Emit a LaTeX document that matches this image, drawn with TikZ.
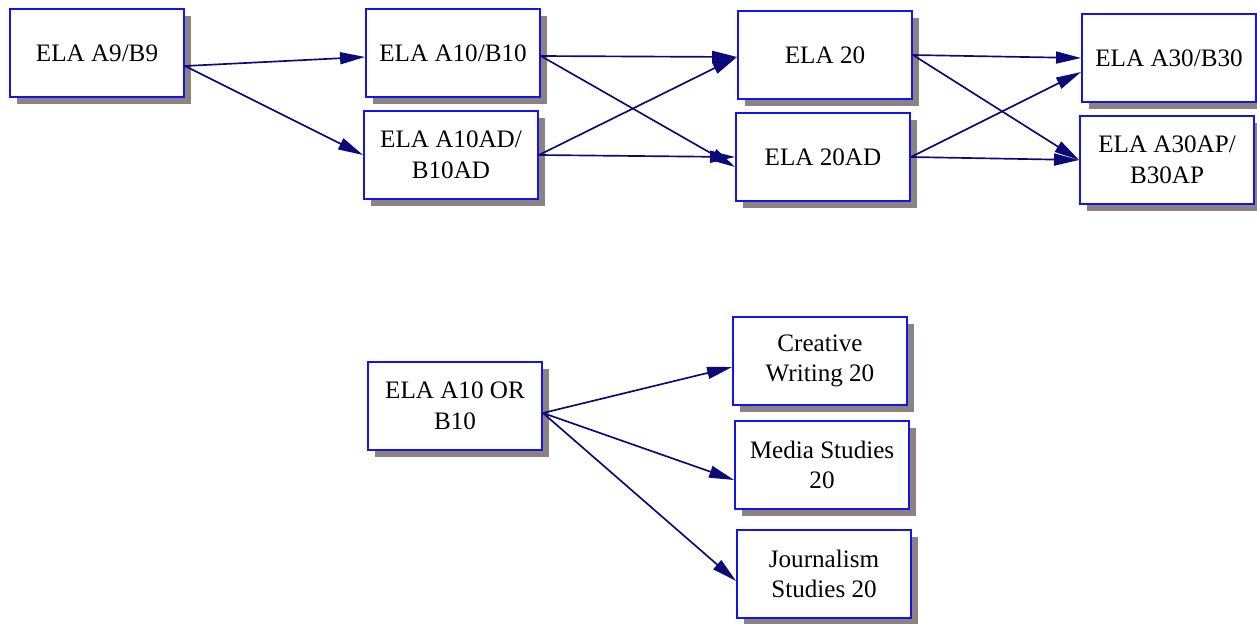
\documentclass[tikz,border=0pt]{standalone}
\usepackage{fontspec}
\setmainfont{Liberation Serif}
\usetikzlibrary{arrows.meta,shadows}
\tikzset{>={Triangle[length=0.5cm,width=0.24cm]}}
\definecolor{boxblue}{RGB}{20,20,240}
\definecolor{linknavy}{RGB}{10,10,120}
\definecolor{shadowgray}{RGB}{140,130,130}
\tikzset{
  course/.style={draw=boxblue, line width=1.1pt, fill=white,
    minimum width=3.48cm, minimum height=1.76cm, align=center,
    font=\fontsize{14.3}{17.5}\selectfont,
    drop shadow={shadow xshift=0.14cm, shadow yshift=-0.14cm, fill=shadowgray, opacity=1}},
  link/.style={->, linknavy, line width=0.95pt}
}

\begin{document}
\begin{tikzpicture}[x=0.02cm,y=-0.02cm]
    \useasboundingbox (0,0) rectangle (1257,623);
    % main sequence
    \node[course] (a9) at (97,53) {ELA A9/B9};
    \node[course] (a10) at (453,53) {ELA A10/B10};
    \node[course] (a10ad) at (451,155) {ELA A10AD/\\B10AD};
    \node[course] (ela20) at (825,55) {ELA 20};
    \node[course] (ela20ad) at (823,157) {ELA 20AD};
    \node[course] (a30) at (1169,58) {ELA A30/B30};
    \node[course] (a30ap) at (1167,160) {ELA A30AP/\\B30AP};
    % electives
    \node[course] (a10or) at (455,406) {ELA A10 OR\\B10};
    \node[course] (cw20) at (820,361) {Creative\\Writing 20};
    \node[course] (ms20) at (822,465) {Media Studies\\20};
    \node[course] (js20) at (824,574) {Journalism\\Studies 20};

    \draw[link] ([yshift=-0.26cm]a9.east) -- ([yshift=-0.08cm]a10.west);
    \draw[link] ([yshift=-0.26cm]a9.east) -- (a10ad.west);
    \draw[link] ([yshift=-0.06cm]a10.east) -- ([yshift=-0.04cm]ela20.west);
    \draw[link] ([yshift=-0.06cm]a10.east) -- ([yshift=-0.2cm]ela20ad.west);
    \draw[link] (a10ad.east) -- ([yshift=-0.04cm]ela20.west);
    \draw[link] (a10ad.east) -- (ela20ad.west);
    \draw[link] (ela20.east) -- (a30.west);
    \draw[link] (ela20.east) -- (a30ap.west);
    \draw[link] (ela20ad.east) -- ([yshift=-0.28cm]a30.west);
    \draw[link] (ela20ad.east) -- (a30ap.west);

    \draw[link] ([yshift=-0.14cm]a10or.east) -- ([yshift=-0.12cm]cw20.west);
    \draw[link] ([yshift=-0.14cm]a10or.east) -- ([yshift=-0.3cm]ms20.west);
    \draw[link] ([yshift=-0.14cm]a10or.east) -- ([yshift=-0.14cm]js20.west);
\end{tikzpicture}
\end{document}
